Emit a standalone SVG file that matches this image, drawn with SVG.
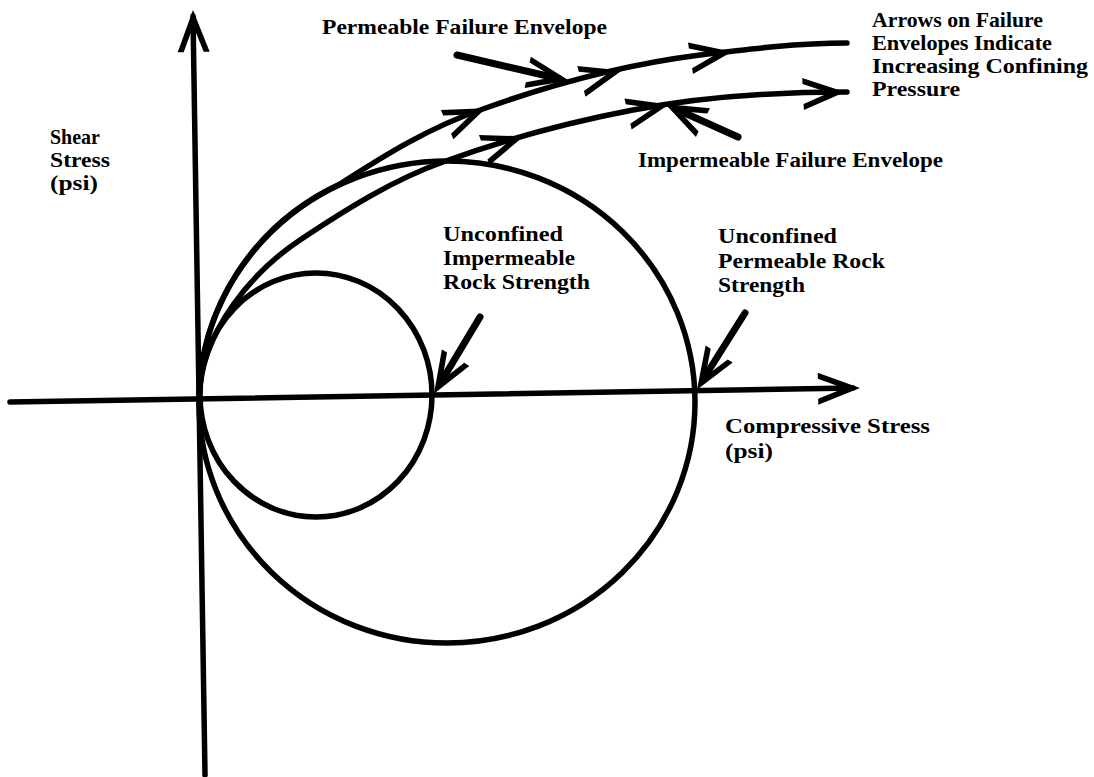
<svg xmlns="http://www.w3.org/2000/svg" width="1094" height="777" viewBox="0 0 1094 777">
<style>
.ln{fill:none;stroke:#000;stroke-width:5.5;stroke-linecap:round}
.ptr{fill:none;stroke:#000;stroke-width:7;stroke-linecap:round}
.hd{fill:#000}
text{font-family:"Liberation Serif","Times New Roman",serif;font-weight:bold;font-size:22px;fill:#000}
</style>
<defs>
<path id="ah" d="M2,0 L-40,-16 L-40,-10 L-14,0 L-40,10 L-40,16 Z"/>
</defs>
<rect width="1094" height="777" fill="#fff"/>
<g id="axes">
<line class="ln" x1="205" y1="775" x2="193" y2="16"/>
<use href="#ah" class="hd" transform="translate(193,12) rotate(-91)"/>
<line class="ln" x1="10" y1="402" x2="853" y2="388"/>
<use href="#ah" class="hd" transform="translate(858,388) rotate(-1)"/>
</g>
<g id="circles">
<ellipse id="large-circle" class="ln" cx="447" cy="402" rx="248" ry="241"/>
<ellipse id="small-circle" class="ln" cx="316" cy="395" rx="116" ry="122"/>
</g>
<g id="connectors">
<path id="permeable-envelope" class="ln" d="M199,400 A248,241 0 0 1 340,184 C385,155 430,127 483,109 C555,83 629,64 700,55 C749,49 798,43 847,43"/>
<use href="#ah" class="hd" transform="translate(484,109) rotate(-23)"/>
<use href="#ah" class="hd" transform="translate(620,71) rotate(-15)"/>
<use href="#ah" class="hd" transform="translate(730,52) rotate(-9)"/>
<path id="impermeable-envelope" class="ln" d="M199,400 C200,330 255,270 300,240 C348,208 395,179 443,162 C506,139 570,122 633,110 C704,96.5 776,92 847,92"/>
<use href="#ah" class="hd" transform="translate(522,137) rotate(-19)"/>
<use href="#ah" class="hd" transform="translate(667,105) rotate(-13)"/>
<use href="#ah" class="hd" transform="translate(843,92) rotate(-3)"/>
<line class="ptr" x1="457" y1="55" x2="556" y2="78"/>
<use href="#ah" class="hd" transform="translate(567,80) rotate(11)"/>
<line class="ptr" x1="738" y1="137" x2="678" y2="110"/>
<use href="#ah" class="hd" transform="translate(667,105) rotate(206)"/>
<line class="ptr" x1="480" y1="317" x2="441" y2="382"/>
<use href="#ah" class="hd" transform="translate(435,392) rotate(121)"/>
<line class="ptr" x1="745" y1="313" x2="704" y2="378"/>
<use href="#ah" class="hd" transform="translate(698,388) rotate(122)"/>
</g>
<g id="label-permeable">
<text x="322" y="34" textLength="285" lengthAdjust="spacingAndGlyphs">Permeable Failure Envelope</text>
</g>
<g id="label-arrows">
<text x="872" y="27" textLength="171" lengthAdjust="spacingAndGlyphs">Arrows on Failure</text>
<text x="872" y="50" textLength="180" lengthAdjust="spacingAndGlyphs">Envelopes Indicate</text>
<text x="872" y="73" textLength="216" lengthAdjust="spacingAndGlyphs">Increasing Confining</text>
<text x="872" y="96" textLength="88" lengthAdjust="spacingAndGlyphs">Pressure</text>
</g>
<g id="label-impermeable">
<text x="638" y="167" textLength="305" lengthAdjust="spacingAndGlyphs">Impermeable Failure Envelope</text>
</g>
<g id="label-shear">
<text x="50" y="144" textLength="50" lengthAdjust="spacingAndGlyphs">Shear</text>
<text x="50" y="167" textLength="60" lengthAdjust="spacingAndGlyphs">Stress</text>
<text x="50" y="190" textLength="48" lengthAdjust="spacingAndGlyphs">(psi)</text>
</g>
<g id="label-unconfined-impermeable">
<text x="443" y="241" textLength="120" lengthAdjust="spacingAndGlyphs">Unconfined</text>
<text x="443" y="265" textLength="132" lengthAdjust="spacingAndGlyphs">Impermeable</text>
<text x="443" y="289" textLength="147" lengthAdjust="spacingAndGlyphs">Rock Strength</text>
</g>
<g id="label-unconfined-permeable">
<text x="718" y="243" textLength="119" lengthAdjust="spacingAndGlyphs">Unconfined</text>
<text x="718" y="268" textLength="167" lengthAdjust="spacingAndGlyphs">Permeable Rock</text>
<text x="718" y="292" textLength="87" lengthAdjust="spacingAndGlyphs">Strength</text>
</g>
<g id="label-compressive">
<text x="725" y="433" textLength="205" lengthAdjust="spacingAndGlyphs">Compressive Stress</text>
<text x="725" y="458" textLength="48" lengthAdjust="spacingAndGlyphs">(psi)</text>
</g>
</svg>
